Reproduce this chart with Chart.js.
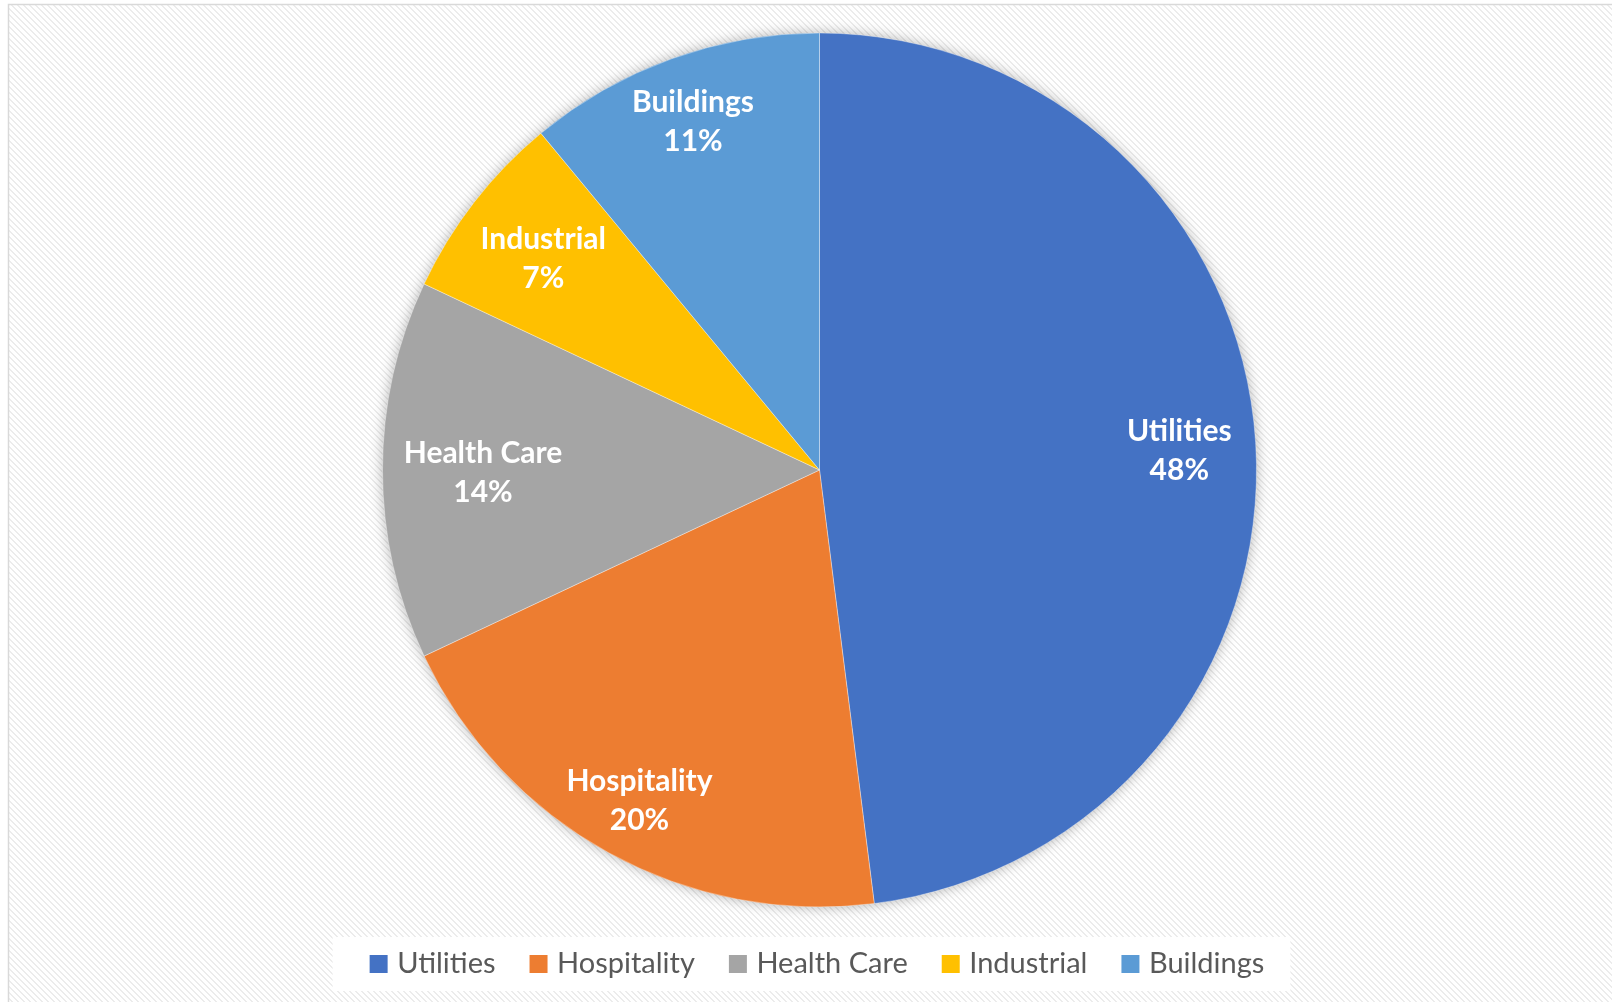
<!DOCTYPE html>
<html>
<head>
<meta charset="utf-8">
<script src="https://cdn.jsdelivr.net/npm/chart.js@4"></script>
<style>
  html, body { margin: 0; padding: 0; background: #ffffff; overflow: hidden; }
  #wrap { position: absolute; left: 0; top: 0; width: 1612px; height: 1002px; }
</style>
</head>
<body>
<div id="wrap"><canvas id="c" width="1612" height="1002"></canvas></div>
<script>
// ---- data ----
const categories = ['Utilities', 'Hospitality', 'Health Care', 'Industrial', 'Buildings'];
const shares = [48, 20, 14, 7, 11];
const sliceColors = ['#4472C4', '#ED7D31', '#A5A5A5', '#FFC000', '#5B9BD5'];
// label distance from centre as fraction of radius (style)
const labelRadius = [0.825, 0.855, 0.77, 0.80, 0.855];

// background pattern tile
function makePattern(ctx) {
  const t = document.createElement('canvas');
  t.width = 6; t.height = 6;
  const g = t.getContext('2d');
  g.fillStyle = '#ffffff';
  g.fillRect(0, 0, 6, 6);
  g.fillStyle = '#ececec';
  for (let i = 0; i < 6; i++) {
    g.fillRect(i, i, 1, 1);
    g.fillRect((i + 1) % 6, i, 1, 1);
  }
  return ctx.createPattern(t, 'repeat');
}

const bgPlugin = {
  id: 'bgPlugin',
  beforeDraw(chart) {
    const ctx = chart.ctx;
    ctx.save();
    ctx.fillStyle = '#ffffff';
    ctx.fillRect(0, 0, chart.width, chart.height);
    ctx.fillStyle = makePattern(ctx);
    ctx.fillRect(9, 5, chart.width - 9, chart.height - 5);
    // frame
    ctx.strokeStyle = '#d9d9d9';
    ctx.lineWidth = 1.5;
    ctx.beginPath();
    ctx.moveTo(8.5, chart.height + 2);
    ctx.lineTo(8.5, 4.5);
    ctx.lineTo(chart.width + 2, 4.5);
    ctx.stroke();
    // legend white panel
    const lg = chart.legend;
    if (lg && lg.legendHitBoxes && lg.legendHitBoxes.length) {
      const hb = lg.legendHitBoxes;
      const l = hb[0].left - 42;
      const r = hb[hb.length - 1].left + hb[hb.length - 1].width + 26;
      const cy = hb[0].top + hb[0].height / 2;
      ctx.fillStyle = '#ffffff';
      ctx.fillRect(l, cy - 27, r - l, 54);
    }
    ctx.restore();
  },
  beforeDatasetsDraw(chart) {
    const meta = chart.getDatasetMeta(0);
    const a = meta.data[0];
    if (!a) return;
    const ctx = chart.ctx;
    ctx.save();
    ctx.shadowColor = 'rgba(0,0,0,0.35)';
    ctx.shadowBlur = 14;
    ctx.fillStyle = '#ffffff';
    ctx.beginPath();
    ctx.arc(a.x, a.y, a.outerRadius - 1, 0, Math.PI * 2);
    ctx.fill();
    ctx.restore();
  },
  afterDatasetsDraw(chart) {
    const meta = chart.getDatasetMeta(0);
    const ds = chart.data.datasets[0].data;
    const total = ds.reduce((s, v) => s + v, 0);
    const ctx = chart.ctx;
    ctx.save();
    ctx.fillStyle = '#ffffff';
    ctx.textAlign = 'center';
    ctx.textBaseline = 'middle';
    ctx.font = 'bold 30px Lato';
    meta.data.forEach((arc, i) => {
      const mid = (arc.startAngle + arc.endAngle) / 2;
      const r = arc.outerRadius * labelRadius[i];
      const x = arc.x + Math.cos(mid) * r;
      const y = arc.y + Math.sin(mid) * r;
      ctx.fillText(chart.data.labels[i], x, y - 16.5);
      ctx.fillText(Math.round(ds[i] / total * 100) + '%', x, y + 22.5);
    });
    ctx.restore();
  }
};

new Chart(document.getElementById('c'), {
  type: 'pie',
  data: {
    labels: categories,
    datasets: [{
      data: shares,
      backgroundColor: sliceColors,
      borderColor: 'rgba(255,255,255,0.35)',
      borderWidth: 1
    }]
  },
  options: {
    responsive: false,
    animation: false,
    devicePixelRatio: 1,
    radius: 437,
    layout: { padding: { top: 29.5, bottom: 13.5, left: 27, right: 0 } },
    plugins: {
      tooltip: { enabled: false },
      legend: {
        position: 'bottom',
        labels: {
          boxWidth: 8,
          boxHeight: 8,
          padding: 39,
          color: '#595959',
          font: { family: 'Lato', size: 29 },
          generateLabels(chart) {
            const items = Chart.overrides.pie.plugins.legend.labels.generateLabels(chart);
            items.forEach(it => {
              it.strokeStyle = it.fillStyle;
              it.lineWidth = 10;
            });
            return items;
          }
        }
      }
    }
  },
  plugins: [bgPlugin]
});
</script>
</body>
</html>
